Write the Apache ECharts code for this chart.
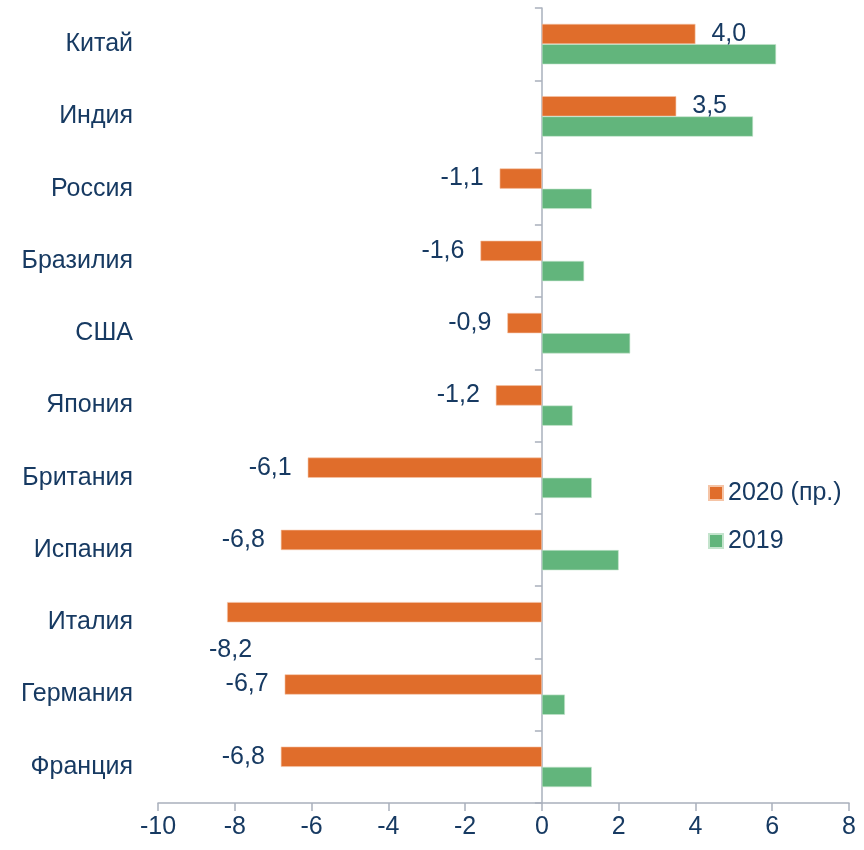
<!DOCTYPE html>
<html>
<head>
<meta charset="utf-8">
<script src="https://cdn.jsdelivr.net/npm/echarts@6/dist/echarts.min.js"></script>
<style>
  html, body { margin: 0; padding: 0; background: #fff; }
  #main { width: 864px; height: 850px; }
</style>
</head>
<body>
<div id="main"></div>
<script>
  // страны сверху вниз
  var countries = ['Китай', 'Индия', 'Россия', 'Бразилия', 'США', 'Япония', 'Британия', 'Испания', 'Италия', 'Германия', 'Франция'];
  var growth2020 = [4.0, 3.5, -1.1, -1.6, -0.9, -1.2, -6.1, -6.8, -8.2, -6.7, -6.8];
  var growth2019 = [6.1, 5.5, 1.3, 1.1, 2.3, 0.8, 1.3, 2.0, null, 0.6, 1.3];
  var seriesNames = ['2020 (пр.)', '2019'];
  var xTicks = [-10, -8, -6, -4, -2, 0, 2, 4, 6, 8];

  var textColor = '#173a62';
  var font = '"Liberation Sans", Arial, sans-serif';
  var fontSize = 25;
  var axisColor = '#a9b0bc';

  var myChart = echarts.init(document.getElementById('main'));

  // подписи: справа у положительных, слева у отрицательных
  var data2020 = growth2020.map(function (v, i) {
    var item = { value: v, label: { position: v >= 0 ? 'right' : 'left' } };
    if (countries[i] === 'Италия') {
      item.label.offset = [41, 38];
    }
    return item;
  });

  var option = {
    backgroundColor: '#fff',
    animation: false,
    textStyle: { fontFamily: font },
    legend: {
      orient: 'vertical',
      left: 703,
      top: 474,
      itemWidth: 14,
      itemHeight: 14,
      itemGap: 20,
      icon: 'rect',
      data: seriesNames,
      textStyle: { color: textColor, fontSize: fontSize, fontFamily: font, lineHeight: 28 }
    },
    grid: { left: 158, right: 15, top: 8, bottom: 47 },
    xAxis: {
      type: 'value',
      min: xTicks[0],
      max: xTicks[xTicks.length - 1],
      interval: 2,
      splitLine: { show: false },
      axisLine: { show: true, lineStyle: { color: axisColor, width: 1.5 } },
      axisTick: { show: true, length: 8, lineStyle: { color: axisColor, width: 1.5 } },
      axisLabel: { color: textColor, fontSize: fontSize, fontFamily: font, margin: 12 }
    },
    yAxis: [
      {
        type: 'category',
        inverse: true,
        data: countries,
        axisLine: { show: false, onZero: false },
        axisTick: { show: false },
        axisLabel: { color: textColor, fontSize: fontSize, fontFamily: font, margin: 25 }
      },
      {
        type: 'category',
        inverse: true,
        data: countries,
        position: 'left',
        axisLine: { show: true, onZero: true, lineStyle: { color: axisColor, width: 1.5 } },
        axisTick: { show: true, length: 7, lineStyle: { color: axisColor, width: 1.5 } },
        axisLabel: { show: false }
      }
    ],
    series: [
      {
        name: seriesNames[0],
        type: 'bar',
        data: data2020,
        barGap: '0%',
        barCategoryGap: '44%',
        itemStyle: { color: '#e06d2b', borderColor: '#f5c4a6', borderWidth: 0.6 },
        label: {
          show: true,
          distance: 16,
          color: textColor,
          fontSize: fontSize,
          fontFamily: font,
          formatter: function (p) { return p.value.toFixed(1).replace('.', ','); }
        }
      },
      {
        name: seriesNames[1],
        type: 'bar',
        data: growth2019,
        barGap: '0%',
        barCategoryGap: '44%',
        itemStyle: { color: '#62b57c', borderColor: '#c4e4cd', borderWidth: 0.6 }
      }
    ]
  };
  myChart.setOption(option);
</script>
</body>
</html>
